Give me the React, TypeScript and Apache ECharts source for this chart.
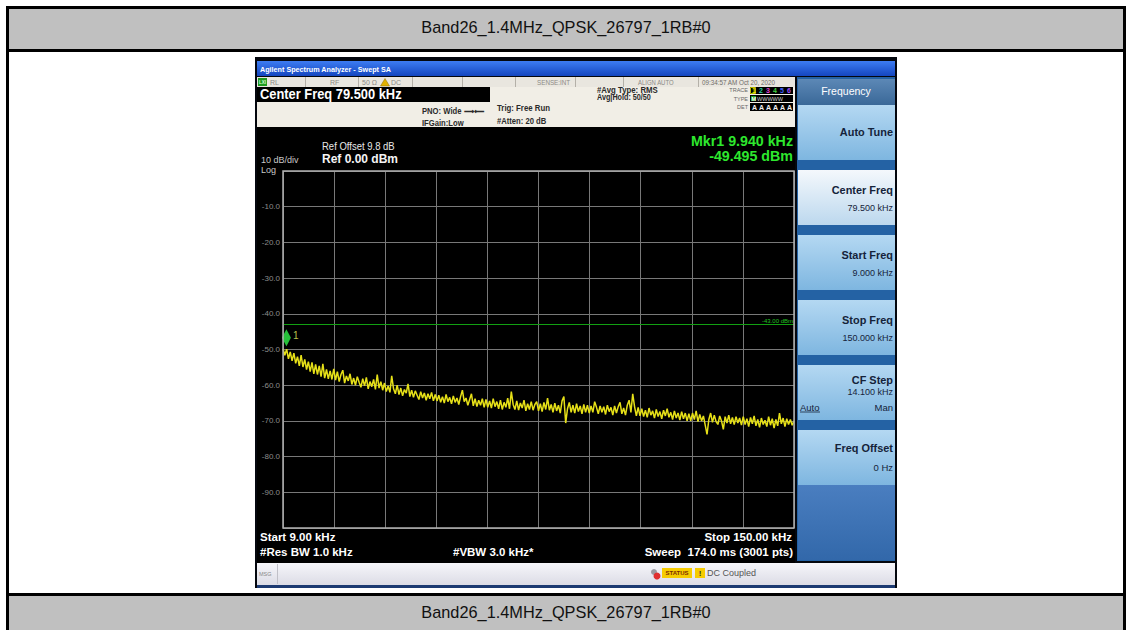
import React, { useEffect, useRef } from "react";
import * as echarts from "echarts";

// ---------- data ----------
const pageTitle = "Band26_1.4MHz_QPSK_26797_1RB#0";
const startKHz = 9;
const stopKHz = 150;
const centerKHz = 79.5;
const refLevelDbm = 0;
const bottomDbm = -100;
const yTickLabels = ["-10.0", "-20.0", "-30.0", "-40.0", "-50.0", "-60.0", "-70.0", "-80.0", "-90.0"];
const displayLineDbm = -43;
const markerFreqKHz = 9.94;
const markerDbm = -49.495;
const traceStepKHz = 0.5;
const traceDbm = [
  -49.8, -51.6, -49.9, -52.6, -50.7, -53.2, -51.0, -53.9, -52.0, -54.6, -51.6, -54.9, -52.8, -55.6, -53.4, -56.2, -53.6, -56.8, -54.2, -57.0, -54.6, -57.6, -54.0, -58.0, -55.6, -58.2, -56.0, -58.4,
  -55.4, -58.6, -56.2, -59.0, -57.0, -55.8, -59.4, -57.4, -58.8, -56.8, -59.8, -58.0, -60.0, -57.6, -59.2, -60.6, -58.2, -60.2, -57.8, -61.0, -59.0, -60.4, -58.4, -61.2, -57.0, -60.8, -59.0, -61.4,
  -59.4, -61.8, -60.2, -62.0, -57.4, -61.0, -62.4, -60.0, -62.6, -60.8, -63.0, -61.2, -62.2, -59.6, -63.2, -61.4, -63.4, -61.6, -62.8, -64.0, -61.8, -63.6, -62.2, -64.2, -62.4, -63.8, -62.0, -64.4,
  -62.6, -64.4, -62.8, -64.8, -63.2, -65.0, -62.6, -64.6, -63.4, -65.2, -63.0, -64.8, -63.6, -65.4, -63.2, -61.4, -64.6, -63.6, -65.6, -64.0, -62.4, -65.8, -63.8, -66.0, -64.2, -65.6, -63.8, -66.2,
  -64.0, -66.2, -64.4, -66.4, -63.8, -66.0, -64.6, -66.6, -64.2, -66.8, -64.8, -66.2, -63.6, -66.6, -61.8, -65.4, -66.8, -64.4, -67.0, -65.0, -66.4, -64.2, -67.2, -65.2, -66.8, -64.6, -67.0, -65.4,
  -64.6, -67.2, -65.2, -67.4, -64.8, -66.8, -63.6, -67.0, -65.4, -67.6, -65.0, -67.2, -65.6, -67.8, -64.4, -63.2, -70.6, -66.6, -64.8, -67.6, -65.6, -67.8, -65.2, -67.4, -65.8, -68.0, -65.4, -67.6,
  -65.6, -67.8, -65.8, -67.6, -64.6, -66.2, -68.0, -65.8, -67.6, -66.0, -68.2, -65.6, -67.4, -66.2, -68.4, -65.8, -67.8, -66.0, -64.8, -68.0, -66.4, -68.4, -65.6, -64.2, -67.6, -62.4, -66.0, -68.6,
  -66.2, -68.6, -66.6, -68.8, -67.0, -69.0, -66.4, -68.4, -67.2, -69.2, -66.8, -68.8, -67.4, -69.4, -67.0, -68.6, -66.6, -69.0, -67.6, -69.6, -67.2, -69.2, -67.8, -69.8, -67.4, -69.4, -67.8, -70.0,
  -68.0, -70.0, -67.8, -69.6, -67.2, -70.2, -68.2, -70.0, -68.6, -71.2, -73.8, -69.6, -67.8, -70.4, -68.4, -70.2, -71.0, -68.6, -70.0, -72.4, -68.8, -70.6, -68.4, -70.8, -69.0, -71.0, -68.8, -70.6,
  -69.2, -71.2, -68.8, -71.0, -69.4, -71.6, -69.0, -70.8, -68.6, -71.4, -69.6, -71.8, -69.2, -71.0, -69.8, -71.6, -68.8, -71.2, -69.4, -72.0, -69.6, -71.4, -67.8, -70.8, -69.2, -71.6, -69.4, -71.0,
  -69.6, -71.2, -70.0,
];
const softKeyLabels = ["Auto Tune", "Center Freq", "Start Freq", "Stop Freq", "CF Step", "Freq Offset"];
const softKeyValues = ["", "79.500 kHz", "9.000 kHz", "150.000 kHz", "14.100 kHz", "0 Hz"];
const statusCells = ["RL", "RF", "50 Ω", "DC", "SENSE:INT", "ALIGN AUTO", "09:34:57 AM Oct 20, 2020"];
const traceNumbers = ["1", "2", "3", "4", "5", "6"];

// ---------- helpers ----------
const FONT = '"Liberation Sans", Arial, Helvetica, sans-serif';
type TO = { s?: number; c?: string; w?: string; a?: string; sx?: number; z?: number };
const T = (x: number, y: number, text: string, o: TO = {}) => ({
  type: "text",
  x,
  y,
  z: o.z ?? 50,
  silent: true,
  scaleX: o.sx ?? 1,
  style: {
    text,
    fill: o.c ?? "#ffffff",
    font: `${o.w ?? "normal"} ${o.s ?? 10}px ${FONT}`,
    align: o.a ?? "left",
    textAlign: o.a ?? "left",
    verticalAlign: "middle",
    textVerticalAlign: "middle",
  },
});
const R = (x: number, y: number, w: number, h: number, fill: any, z = -10, stroke?: string, lw = 1) => ({
  type: "rect",
  z,
  silent: true,
  shape: { x, y, width: w, height: h },
  style: stroke ? { fill, stroke, lineWidth: lw } : { fill },
});
const L = (x1: number, y1: number, x2: number, y2: number, stroke: string, lw = 1, z = 40) => ({
  type: "line",
  z,
  silent: true,
  shape: { x1, y1, x2, y2 },
  style: { stroke, lineWidth: lw },
});
const grad = (a: string, b: string) =>
  new echarts.graphic.LinearGradient(0, 0, 0, 1, [
    { offset: 0, color: a },
    { offset: 1, color: b },
  ]);

function buildGraphics() {
  const g: any[] = [];
  // page table
  g.push(R(8, 8, 1116, 42, "#c0c0c0", -30));
  g.push(R(8, 596, 1116, 34, "#c0c0c0", -30));
  g.push(L(6, 7.5, 1126, 7.5, "#000", 3, -5));
  g.push(L(7.5, 6, 7.5, 630, "#000", 3, -5));
  g.push(L(1124.5, 6, 1124.5, 630, "#000", 3, -5));
  g.push(L(6, 50.5, 1126, 50.5, "#000", 3, -5));
  g.push(L(6, 594.5, 1126, 594.5, "#000", 3, -5));
  g.push(T(566, 27, pageTitle, { s: 17, c: "#111", a: "center", sx: 0.96 }));
  g.push(T(566, 612, pageTitle, { s: 17, c: "#111", a: "center", sx: 0.96 }));

  // analyzer frame
  g.push(R(255, 57, 642, 531, "#04070e", -25));
  g.push(R(257, 61, 638, 15, grad("#3d7cf2", "#1446c0"), -20));
  g.push(T(260, 69, "Agilent Spectrum Analyzer - Swept SA", { s: 8, w: "bold", sx: 0.9 }));

  // status row
  g.push(R(257, 77, 538, 10, "#e9e6df", -20));
  [305, 358, 412, 462, 515, 575, 623, 698].forEach((x) => g.push(L(x + 0.5, 77, x + 0.5, 87, "#b4b0a8", 1, -15)));
  g.push(R(258, 78, 9, 8, "#1f9a1f", -15));
  g.push(T(259, 82.5, "LXI", { s: 4.5, c: "#d8ffd8", w: "bold" }));
  const sc = "#8c8a86";
  g.push(T(270, 82.5, statusCells[0], { s: 7, c: sc }));
  g.push(T(330, 82.5, statusCells[1], { s: 7, c: sc }));
  g.push(T(362, 82.5, statusCells[2], { s: 7, c: sc }));
  g.push({ type: "polygon", z: 30, silent: true, shape: { points: [[385, 78.5], [389.5, 86], [380.5, 86]] }, style: { fill: "#e0b000", stroke: "#8a6a00", lineWidth: 0.5 } });
  g.push(T(391, 82.5, statusCells[3], { s: 7, c: sc }));
  g.push(T(537, 82.5, statusCells[4], { s: 7, c: sc, sx: 0.9 }));
  g.push(T(638, 82.5, statusCells[5], { s: 7, c: sc, sx: 0.85 }));
  g.push(T(702, 82.5, statusCells[6], { s: 7, c: "#6e6c68", sx: 0.9 }));

  // info area
  g.push(R(257, 87, 538, 40, "#f1eee6", -20));
  g.push(R(257, 87, 233, 15, "#000", -15));
  g.push(T(260, 94.8, `Center Freq ${centerKHz.toFixed(3)} kHz`, { s: 14, w: "bold", sx: 0.92 }));
  const ic = "#2a2a2a";
  g.push(T(422, 111, "PNO: Wide ⟶⟵", { s: 8.5, c: ic, w: "bold", sx: 0.9 }));
  g.push(T(422, 123.5, "IFGain:Low", { s: 8.5, c: ic, w: "bold", sx: 0.9 }));
  g.push(T(497, 108.5, "Trig: Free Run", { s: 8.5, c: ic, w: "bold", sx: 0.92 }));
  g.push(T(497, 121, "#Atten: 20 dB", { s: 8.5, c: ic, w: "bold", sx: 0.9 }));
  g.push(T(597, 90.5, "#Avg Type: RMS", { s: 8.5, c: ic, w: "bold", sx: 0.92 }));
  g.push(T(597, 97.5, "Avg|Hold: 50/50", { s: 8.5, c: ic, w: "bold", sx: 0.85 }));
  // trace info
  g.push(T(748, 90, "TRACE", { s: 5.5, c: "#666", a: "right" }));
  g.push(T(748, 98.5, "TYPE", { s: 5.5, c: "#666", a: "right" }));
  g.push(T(748, 107, "DET", { s: 5.5, c: "#666", a: "right" }));
  g.push(R(750, 87, 43, 7, "#000", -15));
  g.push(R(750, 95, 43, 7, "#000", -15));
  g.push(R(750, 103, 43, 8, "#000", -15));
  const tcol = ["#e8e800", "#20c8a0", "#e040d0", "#40d040", "#4060ff", "#a050ff"];
  traceNumbers.forEach((n, i) => {
    g.push(T(752 + i * 7, 90.5, n, { s: 7, c: tcol[i], w: "bold" }));
    g.push(T(752 + i * 7, 107, "A", { s: 7, c: "#f0f0f0", w: "bold" }));
  });
  g.push(R(750.5, 87.5, 5, 6, "none", 45, "#e8e800", 0.8));
  g.push(R(751, 96, 5, 5, "#1f9a1f", -12));
  g.push(T(751.5, 98.5, "M", { s: 5.5, c: "#fff", w: "bold" }));
  g.push(T(757, 98.5, "WWWWW", { s: 5.5, c: "#cfcfcf" }));

  // black screen area
  g.push(R(257, 127, 538, 436, "#000", -20));

  // plot annotations
  g.push(T(322, 146, "Ref Offset 9.8 dB", { s: 10, c: "#e8e8e8", sx: 0.95 }));
  g.push(T(322, 159, `Ref ${refLevelDbm.toFixed(2)} dBm`, { s: 12, c: "#f4f4f4", w: "bold" }));
  g.push(T(261, 159.5, "10 dB/div", { s: 9, c: "#c8c8c8" }));
  g.push(T(261, 169.5, "Log", { s: 9, c: "#c8c8c8" }));
  g.push(T(793, 141, `Mkr1 ${markerFreqKHz.toFixed(3)} kHz`, { s: 15, c: "#2ee82e", w: "bold", a: "right", sx: 0.95 }));
  g.push(T(793, 156, `${markerDbm.toFixed(3)} dBm`, { s: 15, c: "#2ee82e", w: "bold", a: "right", sx: 0.95 }));
  g.push(R(283, 171, 511, 357, "none", 45, "#b0b0b0", 1.5));
  g.push(T(260, 537, `Start ${startKHz.toFixed(2)} kHz`, { s: 11.5, w: "bold" }));
  g.push(T(260, 552, "#Res BW 1.0 kHz", { s: 11.5, w: "bold" }));
  g.push(T(453, 552, "#VBW 3.0 kHz*", { s: 11.5, w: "bold" }));
  g.push(T(792, 537, `Stop ${stopKHz.toFixed(2)} kHz`, { s: 11.5, w: "bold", a: "right" }));
  g.push(T(793, 552, "Sweep  174.0 ms (3001 pts)", { s: 11.5, w: "bold", a: "right" }));

  // right panel
  g.push(R(797, 77, 98, 484, "#2462a4", -20));
  g.push(R(798, 79, 97, 26, grad("#5c88b6", "#3a6898"), -15));
  g.push(T(846, 91, "Frequency", { s: 10.5, c: "#ffffff", a: "center" }));
  softKeyLabels.forEach((lab, i) => {
    const top = 105 + i * 65;
    const hi = i === 1;
    g.push(R(798, top, 97, 55, hi ? grad("#f4f8fc", "#bcd8ee") : grad("#b4d8f2", "#7eb6e0"), -15));
    const dark = "#15233a";
    if (i === 0) {
      g.push(T(893, top + 27, lab, { s: 11.5, c: dark, w: "bold", a: "right", sx: 0.95 }));
    } else if (i === 4) {
      g.push(T(893, top + 15, lab, { s: 11.5, c: dark, w: "bold", a: "right", sx: 0.95 }));
      g.push(T(893, top + 27, softKeyValues[i], { s: 9.5, c: dark, a: "right", sx: 0.95 }));
      g.push(T(893, top + 42, "Man", { s: 9.5, c: dark, a: "right" }));
      g.push(T(800, top + 42, "Auto", { s: 9.5, c: dark }));
      g.push(L(800, top + 47, 820, top + 47, dark, 0.8, 45));
    } else if (i === 5) {
      g.push(T(893, top + 18, lab, { s: 11.5, c: dark, w: "bold", a: "right", sx: 0.95 }));
      g.push(T(893, top + 37, softKeyValues[i], { s: 9.5, c: dark, a: "right" }));
    } else {
      g.push(T(893, top + 20, lab, { s: 11.5, c: dark, w: "bold", a: "right", sx: 0.95 }));
      g.push(T(893, top + 38, softKeyValues[i], { s: 9.5, c: dark, a: "right", sx: 0.95 }));
    }
  });
  g.push(R(798, 485, 97, 75, grad("#4a7ec0", "#3268aa"), -15));

  // message row
  g.push(R(257, 563, 638, 22, grad("#f6f6fa", "#dcdce6"), -15));
  g.push(T(259, 574, "MSG", { s: 5.5, c: "#888" }));
  g.push(L(277.5, 564, 277.5, 584, "#c0c0c8", 1, -10));
  g.push({ type: "circle", z: 30, silent: true, shape: { cx: 657, cy: 576, r: 3.5 }, style: { fill: "#e03030" } });
  g.push({ type: "circle", z: 29, silent: true, shape: { cx: 654, cy: 572, r: 3 }, style: { fill: "#9a9aa0" } });
  g.push(R(662, 568, 30, 10, "#f6cc00", 20));
  g.push(T(677, 573, "STATUS", { s: 6, c: "#7a2a00", w: "bold", a: "center" }));
  g.push(R(695, 568, 10, 10, "#f6cc00", 20));
  g.push(T(700, 573, "!", { s: 8, c: "#333", w: "bold", a: "center" }));
  g.push(T(707, 573, "DC Coupled", { s: 9.5, c: "#555", sx: 0.95 }));
  g.push(R(257, 585, 638, 3, "#1c3a72", -15));
  return g;
}

export default function App() {
  const ref = useRef<HTMLDivElement>(null);
  useEffect(() => {
    if (!ref.current) return;
    const chart = echarts.init(ref.current, undefined, { renderer: "svg" });
    const trace = traceDbm.map((v, i) => [startKHz + i * traceStepKHz, v]);
    chart.setOption({
      animation: false,
      backgroundColor: "#ffffff",
      grid: { left: 283, top: 171, width: 511, height: 357, show: false },
      xAxis: [
        { type: "value", min: startKHz, max: stopKHz, show: false },
        {
          type: "value",
          min: 0,
          max: 10,
          interval: 1,
          axisLine: { show: false },
          axisTick: { show: false },
          axisLabel: { show: false },
          splitLine: { show: true, lineStyle: { color: "#787878", width: 1 } },
        },
      ],
      yAxis: {
        type: "value",
        min: bottomDbm,
        max: refLevelDbm,
        interval: 10,
        axisLine: { show: false },
        axisTick: { show: false },
        axisLabel: {
          margin: 3,
          color: "#8c8c8c",
          fontSize: 8,
          fontFamily: FONT,
          formatter: (v: number) => {
            const s = v.toFixed(1);
            return yTickLabels.includes(s) ? s : "";
          },
        },
        splitLine: { show: true, lineStyle: { color: "#787878", width: 1 } },
      },
      graphic: { elements: buildGraphics() },
      series: [
        {
          type: "line",
          xAxisIndex: 0,
          data: trace,
          showSymbol: false,
          symbol: "none",
          lineStyle: { color: "#e6e018", width: 1.5 },
          z: 5,
          markLine: {
            silent: true,
            symbol: "none",
            lineStyle: { color: "#12a012", width: 1, type: "solid" },
            label: {
              show: true,
              position: "insideEndTop",
              formatter: `${displayLineDbm.toFixed(2)} dBm`,
              color: "#22c022",
              fontSize: 6,
              distance: 1,
            },
            data: [{ yAxis: displayLineDbm }],
          },
        },
        {
          type: "scatter",
          xAxisIndex: 0,
          data: [[markerFreqKHz, markerDbm]],
          symbol: "diamond",
          symbolSize: [9, 17],
          symbolOffset: [0, -10],
          itemStyle: { color: "#30f048" },
          z: 6,
          label: {
            show: true,
            formatter: "1",
            position: "right",
            distance: 2,
            offset: [0, -2],
            color: "#e4f060",
            fontSize: 10,
            fontFamily: FONT,
          },
        },
      ],
    });
    return () => chart.dispose();
  }, []);
  return <div ref={ref} style={{ position: "absolute", left: 0, top: 0, width: 1132, height: 630 }} />;
}
